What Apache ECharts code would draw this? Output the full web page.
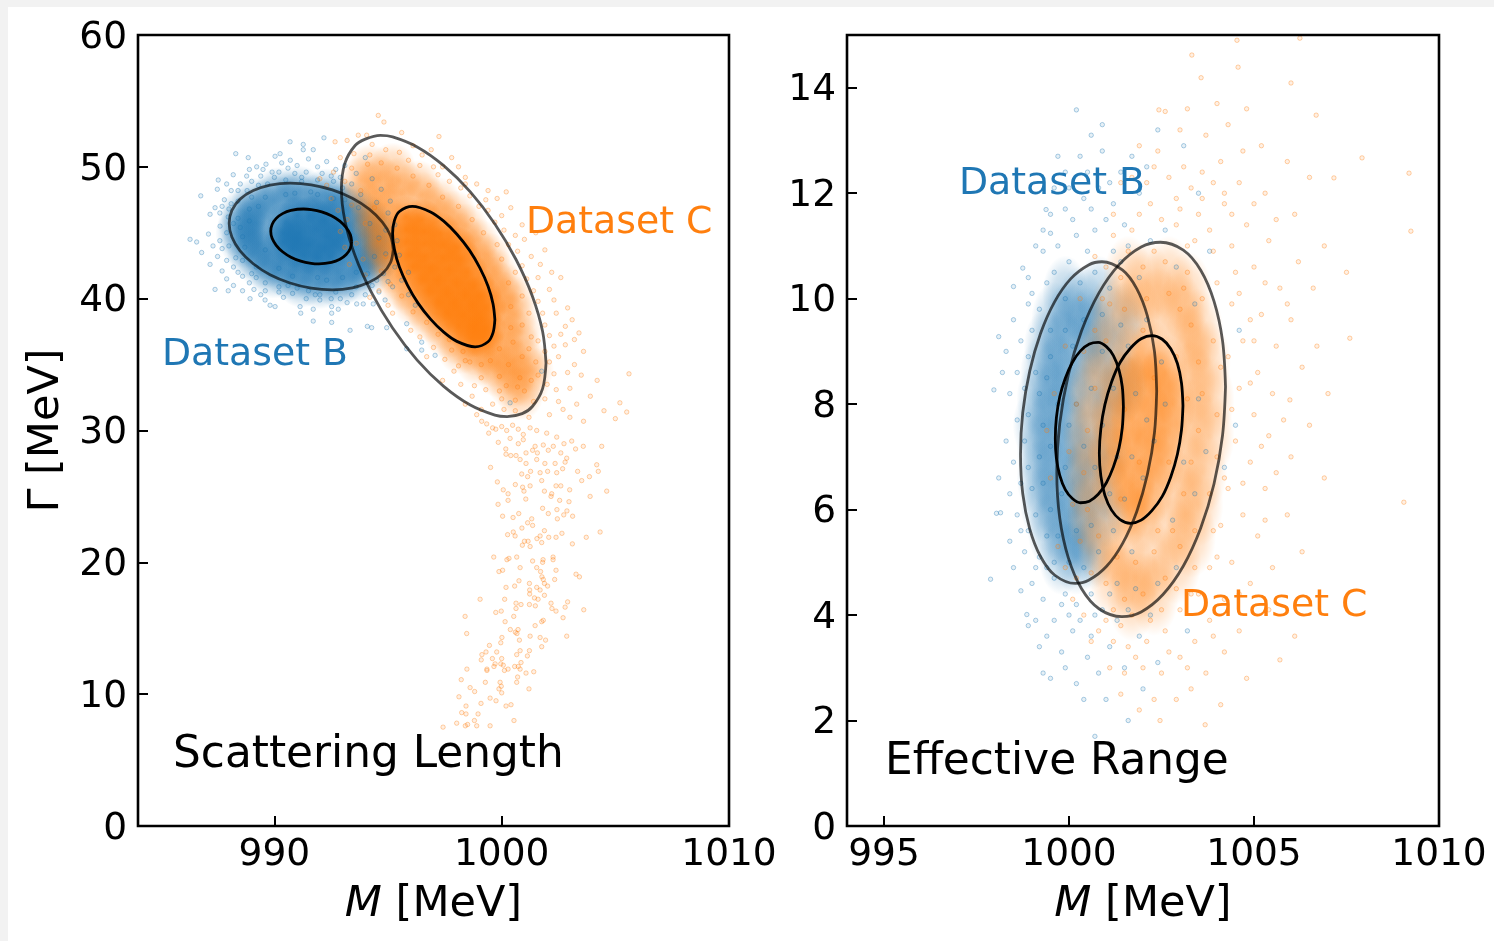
<!DOCTYPE html>
<html>
<head>
<meta charset="utf-8">
<title>Scattering Length / Effective Range</title>
<script src="https://cdn.jsdelivr.net/npm/echarts@6/dist/echarts.min.js"></script>
<style>
    html, body { margin: 0; height: 100%; background: #f2f2f2; overflow: hidden; }
    #chart { position: absolute; left: 8px; top: 7px; width: 1486px; height: 934px; background: #fff; }
</style>
</head>
<body>
<div id="chart"></div>
<script>
// tick values
var lenXTicks = [990, 1000, 1010];
var lenYTicks = [0, 10, 20, 30, 40, 50, 60];
var rngXTicks = [995, 1000, 1005, 1010];
var rngYTicks = [0, 2, 4, 6, 8, 10, 12, 14];

// Scattering Length, contour lines
var lenB1 = [[993.40,44.32],[993.34,44.86],[993.16,45.39],[992.88,45.88],[992.51,46.29],[992.08,46.59],[991.62,46.76],[991.28,46.80],[990.73,46.69],[990.36,46.45],[990.08,46.09],[989.90,45.63],[989.84,45.12],[989.90,44.58],[990.08,44.05],[990.36,43.56],[990.73,43.15],[991.16,42.85],[991.62,42.68],[991.96,42.64],[992.51,42.75],[992.88,42.99],[993.16,43.35],[993.34,43.81],[993.40,44.32]];
var lenB2 = [[995.23,43.72],[995.11,44.77],[994.75,45.81],[994.17,46.79],[993.43,47.62],[992.55,48.25],[991.62,48.64],[990.69,48.77],[989.81,48.62],[989.07,48.20],[988.49,47.55],[988.13,46.70],[988.01,45.72],[988.13,44.67],[988.49,43.63],[989.07,42.65],[989.81,41.82],[990.69,41.19],[991.62,40.80],[992.55,40.67],[993.43,40.82],[994.17,41.24],[994.75,41.89],[995.11,42.74],[995.23,43.72]];
var lenC1 = [[999.70,38.40],[999.62,39.60],[999.40,40.94],[999.04,42.33],[998.58,43.68],[998.03,44.89],[997.45,45.88],[996.87,46.58],[996.07,47.00],[995.50,46.61],[995.28,45.92],[995.20,44.94],[995.28,43.74],[995.50,42.40],[995.86,41.01],[996.32,39.66],[996.87,38.45],[997.45,37.46],[998.03,36.76],[998.83,36.34],[999.40,36.73],[999.62,37.42],[999.70,38.40]];
var lenC2 = [[1001.95,35.12],[1001.80,37.51],[1001.35,40.19],[1000.63,42.97],[999.70,45.67],[998.62,48.10],[997.45,50.09],[996.28,51.51],[995.20,52.27],[994.66,52.38],[994.00,52.10],[993.55,51.62],[993.10,50.26],[992.95,48.32],[993.10,45.93],[993.55,43.25],[994.27,40.47],[995.20,37.77],[996.28,35.34],[997.45,33.35],[998.62,31.93],[999.70,31.17],[1000.24,31.06],[1000.90,31.28],[1001.35,31.82],[1001.80,33.18],[1001.95,35.12]];

// Effective Range, contour lines
var rngB1 = [[1001.47,7.95],[1001.44,8.33],[1001.35,8.65],[1001.20,8.92],[1001.01,9.09],[1000.79,9.17],[1000.55,9.14],[1000.31,9.01],[1000.09,8.79],[999.90,8.49],[999.75,8.14],[999.66,7.75],[999.63,7.35],[999.66,6.97],[999.75,6.65],[999.90,6.38],[1000.09,6.21],[1000.31,6.13],[1000.55,6.16],[1000.79,6.29],[1001.01,6.51],[1001.20,6.81],[1001.35,7.16],[1001.44,7.55],[1001.47,7.95]];
var rngB2 = [[1002.37,8.25],[1002.31,9.00],[1002.12,9.67],[1001.83,10.19],[1001.45,10.54],[1000.89,10.70],[1000.53,10.64],[1000.05,10.38],[999.61,9.94],[999.23,9.34],[998.94,8.63],[998.75,7.84],[998.69,7.05],[998.75,6.30],[998.94,5.63],[999.23,5.11],[999.61,4.76],[1000.17,4.60],[1000.53,4.66],[1001.01,4.92],[1001.45,5.36],[1001.83,5.96],[1002.12,6.67],[1002.31,7.46],[1002.37,8.25]];
var rngC1 = [[1003.08,7.97],[1003.04,8.40],[1002.93,8.77],[1002.75,9.05],[1002.52,9.23],[1002.24,9.30],[1001.95,9.24],[1001.66,9.06],[1001.38,8.79],[1001.15,8.42],[1000.97,7.99],[1000.86,7.53],[1000.82,7.07],[1000.86,6.64],[1000.97,6.27],[1001.15,5.99],[1001.38,5.81],[1001.66,5.74],[1001.95,5.80],[1002.24,5.98],[1002.52,6.25],[1002.75,6.62],[1002.93,7.05],[1003.04,7.51],[1003.08,7.97]];
var rngC2 = [[1004.23,8.33],[1004.15,9.20],[1003.92,9.95],[1003.56,10.54],[1003.09,10.92],[1002.47,11.07],[1001.95,10.98],[1001.36,10.65],[1000.81,10.11],[1000.34,9.39],[999.98,8.55],[999.75,7.63],[999.67,6.71],[999.75,5.84],[999.98,5.09],[1000.34,4.50],[1000.81,4.12],[1001.43,3.97],[1001.95,4.06],[1002.54,4.39],[1003.09,4.93],[1003.56,5.65],[1003.92,6.49],[1004.15,7.41],[1004.23,8.33]];

// Scattering Length, Dataset B samples: scattered, then thick clusters, then the solid middle
var lenBLoose = [[986.29,44.5],[986.58,44.3],[986.80,43.5],[986.76,47.8],[988.30,51.0],[988.85,50.7],[990.69,51.9],[991.27,51.7],[992.18,52.2],[991.27,51.3],[991.71,51.3],[990.03,50.8],[990.25,51.0],[987.53,49.0],[988.19,49.4],[988.78,49.3],[989.22,50.0],[989.63,50.2],[990.32,50.3],[987.17,46.4],[987.39,46.9],[987.49,48.3],[987.61,45.5],[987.97,46.2],[987.17,42.6],[987.39,40.7],[987.97,40.6],[988.93,40.0],[989.59,39.9],[989.81,39.5],[990.03,39.4],[991.13,39.4],[991.16,38.9],[991.71,39.2],[991.71,38.3],[992.52,39.4],[992.52,38.9],[992.81,39.2],[992.52,38.2],[993.33,37.6],[994.09,37.9],[994.28,37.8],[994.94,37.8],[993.62,39.6],[993.91,39.6],[994.35,39.6],[994.87,39.9],[995.82,38.1],[995.82,36.2],[996.48,36.7],[996.48,36.1],[997.07,35.7],[1000.37,32.1],[1001.76,34.5],
[987.1,44.9],[987.3,44.0],[987.5,43.2],[987.7,42.1],[987.9,41.5],[988.2,41.0],[988.6,40.6],[989.1,40.7],[989.4,40.3],[990.4,40.1],[990.8,40.4],[991.4,40.0],[992.0,39.9],[992.9,40.0],[993.4,40.3],[994.6,40.5],[995.2,40.9],[995.6,41.4],[995.9,40.3],[996.2,39.5],
[987.8,47.5],[988.1,48.2],[988.5,48.7],[989.0,48.9],[989.4,49.3],[989.9,49.6],[990.6,49.9],[991.0,50.1],[991.4,49.6],[991.9,50.0],[992.3,50.4],[992.7,49.8],[993.1,50.1],[993.6,49.5],[994.0,50.7],[994.3,49.1],[994.7,48.3],[995.1,47.4],
[987.9,45.0],[988.0,44.0],[988.3,43.1],[988.2,42.4],[988.6,41.7],[989.2,41.6],[989.6,41.2],[990.2,40.9],[990.6,41.0],[991.5,40.6],[992.0,40.3],[992.7,40.5],[993.6,40.9],[994.3,41.0],[994.8,41.9],[995.3,42.4],[995.5,43.3],[995.4,44.4],[995.3,45.6],[995.0,46.5],[994.5,47.3],[993.8,47.9],[993.0,48.4],[992.6,48.9],[991.9,49.0],[991.2,49.2],[990.5,49.0],[989.7,48.7],[988.8,48.2],[988.4,47.4],[988.0,46.8],[988.2,45.7],
[988.6,44.7],[988.9,45.9],[989.3,47.0],[989.6,43.7],[989.2,42.4],[990.2,42.3],[992.3,41.4],[993.6,42.0],[994.4,43.2],[994.6,44.6],[994.2,45.7],[993.7,46.9],[992.6,47.6],[991.6,48.1],[990.5,47.9],
[988.4,46.1],[988.7,43.9],[989.0,41.9],[990.8,41.7],[991.9,41.6],[993.0,41.6],[994.1,41.9],[994.9,43.4],[994.9,45.2],[993.1,47.5],[991.9,47.9],[990.9,48.0],[989.6,47.7],[988.9,46.8],[988.5,45.4],[992.5,49.3],[990.9,49.5],[989.3,48.6],[988.6,42.9],[987.6,44.4],
[988.9,49.8],[989.5,49.8],[990.2,49.6],[990.7,50.5],[991.5,50.6],[992.1,49.5],[992.9,49.2],[993.4,48.7],[990.0,49.2],[991.2,48.9],[989.0,47.7],[988.4,48.2],[987.9,48.7],[987.7,47.0],[987.6,46.5],[988.1,47.2],[987.7,43.8],[987.9,42.9],[988.4,42.0],[988.9,41.2],[989.6,40.6],[990.2,40.5],[991.0,40.8],[991.8,40.3],[992.5,40.0],[993.2,39.7],[994.0,40.3],[994.5,41.4],[995.0,41.3],[995.9,42.0]];
var lenBMid = [[990.2,48.1],[991.1,48.2],[992.3,48.0],[989.2,47.3],[990.0,47.5],[990.9,47.6],[991.7,47.5],[992.6,47.3],[993.3,47.1],[988.7,46.5],[989.4,46.7],[992.4,46.8],[993.1,46.6],[993.9,46.2],[988.6,45.7],[989.2,45.8],[993.5,45.9],[994.3,45.5],[988.5,45.0],[989.1,44.9],[994.0,44.9],[994.6,44.7],[988.7,44.2],[989.3,44.1],[994.1,44.0],[994.6,43.8],[989.0,43.4],[989.7,43.3],[993.9,43.2],[994.4,43.1],[989.5,42.6],[990.2,42.7],[990.9,42.5],[993.6,42.4],[994.2,42.3],[990.0,41.9],[990.7,41.8],[991.5,42.0],[992.2,41.9],[992.9,41.9],[993.5,41.6],[991.2,41.2],[992.0,41.1],[992.8,41.2]];
var lenBCore = [[990.4,45.0],[990.5,45.8],[991.0,46.3],[991.6,46.3],[992.2,46.0],[992.7,45.3],[993.0,44.6],[993.0,43.9],[992.5,43.2],[991.9,43.1],[991.3,43.3],[990.8,43.8],[990.4,44.3],[991.1,45.0],[991.8,45.3],[992.3,44.7],[992.2,43.9],[991.5,44.1],[991.0,44.6]];

// Scattering Length, Dataset C samples
var lenCLoose = [[994.57,53.9],[994.82,53.4],[993.69,52.4],[994.06,52.4],[997.24,52.3],[992.67,51.9],[993.2,52.0],[995.6,52.6],[996.1,51.6],[996.9,51.3],[997.8,50.7],[998.1,50.0],[998.4,49.2],[998.9,48.7],[999.4,48.2],[999.8,47.6],[1000.4,46.9],[1000.2,48.1],[1000.9,45.6],[1001.0,44.5],[1001.5,45.0],[1001.9,43.7],[1001.7,42.6],[1002.2,42.0],[1002.6,41.6],[1002.1,40.7],[1002.9,39.3],[1003.1,38.4],[1002.4,38.9],[1003.4,37.4],[1002.8,36.5],[1003.6,36.0],[1003.2,35.0],[1002.5,35.6],[1003.5,34.2],[1004.2,33.8],[1005.6,34.3],[1003.0,33.2],[1003.9,32.6],[1005.2,32.1],[1005.5,31.4],[1005.0,30.9],[1004.5,31.5],[1002.5,32.2],[1002.1,31.2],[1003.0,31.0],[1003.6,30.7],
[992.3,48.6],[992.0,49.1],[992.6,49.6],[992.9,50.7],[993.4,49.9],[993.1,48.9],[992.5,47.6],[992.8,46.7],[993.2,46.0],[993.4,47.1],[992.9,45.1],[993.6,44.2],[993.1,43.9],[993.9,43.0],[993.3,42.6],[994.0,41.8],[994.6,40.6],[994.2,40.1],[995.0,39.5],[995.2,38.9],[996.0,37.6],[996.4,37.1],[997.0,36.3],[996.7,35.6],[997.5,35.4],[997.9,34.5],[997.4,33.8],[998.2,33.5],[998.7,32.6],[998.4,32.0],[999.1,31.6],[999.6,32.0],[998.9,31.2],[1000.1,31.6],[1000.6,31.5],[1001.2,31.0],
[994.3,51.7],[994.9,51.3],[995.5,51.1],[994.2,50.9],[995.9,50.5],[996.4,50.1],[997.0,50.0],[997.2,49.4],[997.7,48.9],[998.2,48.4],[998.6,47.8],[999.0,47.0],[999.4,46.7],[999.7,45.8],[1000.1,45.2],[1000.3,44.1],[1000.7,43.6],[1000.9,42.5],[1001.1,41.5],[1001.4,40.6],[1001.6,39.8],[1001.8,38.9],[1001.9,38.0],[1002.1,37.2],[1002.3,36.4],[1002.1,35.2],[1002.3,34.3],[1002.0,33.5],[1001.9,32.4],
[1001.0,33.0],[1000.6,32.3],[1000.2,33.4],[1000.8,34.0],[1001.3,33.8],[1001.5,35.2],[1000.9,35.6],[1000.3,35.0],[999.9,34.1],[999.3,33.1],[999.1,34.0],[998.8,33.4],[999.5,35.3],[998.6,35.2],[998.1,34.9],[998.3,36.0],[997.8,36.1],[999.9,36.2],[1000.5,36.7],[1001.3,37.1],[1000.9,38.0],[1001.2,38.9],[1000.4,39.4],[1000.9,40.2],[1000.3,41.2],[1000.6,42.0],[1000.0,43.0],[999.8,44.1],[999.2,45.0],[998.7,46.0],[998.1,47.0],[997.4,47.7],[996.8,48.6],[996.1,49.3],[995.4,49.9],[994.7,50.3],[994.1,50.2],
[993.5,51.0],[993.8,48.2],[994.4,46.9],[994.0,45.7],[994.6,44.5],[994.9,43.2],[994.7,42.1],[995.1,41.1],[995.6,40.2],[996.1,39.0],[996.7,38.2],[997.2,37.3],[997.7,36.9],[998.4,35.3],[999.1,35.0],[999.9,33.0],[1000.7,33.3],[1001.6,34.2],[1001.2,36.2],[1001.6,36.8],
[1002.4,33.1],[1002.9,34.4],[1002.7,31.6],[1003.3,32.0],[1002.8,37.9],[1002.3,39.9],[1001.6,41.6],[1001.3,43.2],[1000.6,44.8],[1000.0,46.3],[999.3,47.5],[998.4,48.7],[997.4,50.0],[996.5,50.9],[1003.2,36.9],[1002.6,37.3],[1001.9,36.0],[1001.4,32.2],[1000.0,32.4],[1000.4,37.8]];
// the sparse tail under the cloud, read point by point
var lenCTail = [[999.12,30.7],[999.34,30.5],[999.60,30.2],[999.74,30.1],[999.43,29.8],[1000.0,30.3],[1000.22,30.0],[1000.48,30.4],[1000.73,30.1],[1000.95,29.7],[1001.25,30.2],[1001.54,30.0],[1001.98,29.8],[1002.42,29.5],[999.85,29.1],[1000.37,29.4],[1000.73,29.0],[1000.95,29.3],[1001.47,28.8],[1001.83,28.9],[1002.27,28.8],[1002.74,29.0],[1003.08,29.2],[1003.59,28.8],[1004.40,28.8],[1000.18,28.6],[1000.19,28.2],[1000.40,28.1],[1000.63,28.1],[1000.81,27.8],[1001.07,28.3],[1001.36,28.5],[1001.57,28.3],[1002.05,28.5],[1002.60,28.3],[1002.86,27.9],[1003.25,28.6],[999.51,27.2],[1001.07,27.5],[1001.54,27.8],[1001.90,27.5],[1002.35,27.5],[1002.79,27.6],[1002.02,26.9],[1002.68,27.1],[1003.34,26.9],[1003.86,26.5],[1004.18,27.4],[1004.25,26.9],[999.81,26.1],[1000.88,26.7],[1001.27,26.9],[1001.69,26.8],[1001.14,26.5],[1001.76,26.2],[1002.42,26.8],[1003.52,26.2],[1000.60,25.9],[1000.92,25.7],[1001.25,25.8],[1000.07,25.5],[1000.28,25.2],[1000.28,24.7],[1000.98,25.4],[1001.88,25.4],[1002.39,25.8],[1002.60,25.8],[1002.99,25.5],[1002.20,25.2],[1002.17,25.0],[1003.89,25.0],[1004.62,25.4],[1001.06,24.8],[999.84,24.4],[1000.75,23.7],[1002.55,24.7],[1002.96,24.6],[1001.80,24.1],[1002.43,24.0],[1002.87,23.9],[1002.73,23.6],[1002.05,23.7],[1000.04,23.5],[1000.50,23.4],[1001.32,23.3],[1002.45,23.3],[1003.12,23.5],[1001.14,23.0],[1001.36,22.8],[1000.89,22.6],[1000.51,22.3],[1000.26,22.1],[1000.59,22.0],[1001.88,22.4],[1001.69,22.0],[1001.55,21.8],[1002.07,21.9],[1002.39,21.9],[1002.65,22.2],[1003.72,21.9],[1004.33,22.3],[1001.0,21.6],[1001.16,21.6],[1000.91,21.3],[1001.25,21.2],[1001.76,21.5],[1003.11,21.4],[999.65,20.4],[1000.23,20.2],[1000.32,20.3],[1000.66,20.4],[1001.36,20.1],[1001.82,20.2],[1001.80,20.0],[1002.26,20.4],[1002.26,20.2],[1000.81,19.6],[1001.54,19.6],[1002.39,19.4],[999.88,19.3],[1000.04,19.4],[1001.71,19.3],[1001.77,18.9],[1003.27,19.1],[1003.42,18.9],[1001.83,18.7],[1002.33,18.7],[1000.76,18.6],[1000.19,18.1],[1000.57,18.2],[1001.22,18.4],[1001.54,18.1],[1001.69,17.9],[1001.88,18.4],[1002.02,18.2],[1001.23,17.9],[1001.23,17.6],[1001.88,17.5],[999.05,17.2],[1000.13,17.2],[1001.44,17.3],[1001.60,17.2],[1000.63,16.9],[1000.85,16.8],[1001.22,16.8],[1001.48,16.7],[1002.17,16.9],[1002.90,17.0],[1002.79,16.6],[1000.63,16.5],[999.98,16.3],[999.74,16.2],[1002.21,16.5],[1002.39,16.3],[1003.61,16.4],[998.39,15.9],[1000.53,15.9],[1002.70,15.8],[1000.15,15.5],[1001.83,15.6],[1001.76,15.5],[1001.47,15.2],[1000.38,14.9],[1000.72,14.9],[1000.60,14.7],[1000.67,14.6],[998.46,14.6],[1000.01,14.3],[1000.78,14.1],[1001.25,14.4],[1001.69,14.3],[1001.93,14.1],[1002.86,14.4],[999.96,13.9],[999.46,13.7],[999.31,13.2],[999.78,13.2],[1000.81,13.3],[1001.22,13.3],[1001.76,13.6],[1000.66,13.0],[1001.13,12.9],[999.13,13.0],[999.10,12.6],[999.59,12.7],[1000.0,12.7],[1000.85,12.4],[999.71,12.3],[999.66,12.1],[999.96,12.3],[1000.07,12.2],[1000.57,12.1],[1000.73,12.1],[998.47,11.9],[999.35,11.9],[999.35,11.8],[1000.12,11.8],[1000.28,11.9],[1000.81,11.9],[1001.07,11.6],[1001.41,11.7],[1000.70,11.3],[998.22,11.1],[999.28,10.9],[999.93,10.9],[1000.66,10.9],[998.61,10.5],[999.98,10.6],[999.88,10.4],[1001.20,10.4],[998.81,10.2],[1000.0,10.1],[998.12,9.8],[999.49,9.7],[999.75,9.5],[999.09,9.3],[998.43,9.1],[1000.19,9.1],[1000.41,9.2],[998.24,8.6],[998.43,8.5],[998.96,8.5],[998.02,7.8],[998.80,8.0],[1000.54,8.0],[998.50,7.7],[998.40,7.6],[998.90,7.6],[999.49,7.6],[997.42,7.5]];
var lenCMid = [[994.2,50.0],[995.2,50.1],[993.8,49.0],[994.6,49.1],[995.5,49.0],[996.3,48.8],[993.9,48.0],[994.8,48.1],[995.6,47.9],[996.5,47.9],[997.2,47.5],[994.3,47.0],[995.0,47.1],[997.0,46.8],[997.9,46.5],[994.2,46.1],[994.8,46.2],[997.6,45.9],[998.4,45.5],[994.4,45.2],[995.0,45.0],[998.2,44.8],[998.9,44.4],[994.6,44.2],[995.0,43.9],[998.8,43.6],[999.4,43.3],[994.7,43.3],[995.3,42.7],[999.1,42.5],[999.7,42.1],[995.1,42.1],[995.6,41.5],[999.5,41.5],[1000.1,41.0],[995.6,40.8],[996.1,40.3],[999.9,40.4],[1000.5,40.0],[996.2,39.6],[996.7,39.1],[1000.0,39.3],[1000.6,38.8],[996.9,38.4],[997.4,37.9],[1000.1,38.2],[1000.8,37.5],[997.6,37.2],[998.1,36.7],[1000.0,37.1],[1000.7,36.6],[998.2,36.0],[998.8,35.9],[999.4,35.9],[1000.1,35.9],[999.0,35.1],[999.7,35.0],[1000.4,35.2],[1001.1,35.3],[999.9,34.2],[1000.6,34.3],[1001.3,34.6],[1000.4,33.4],[1001.1,33.5],[1000.8,32.5]];
var lenCCore = [[995.8,46.2],[996.5,46.0],[995.8,45.2],[996.6,45.1],[997.3,45.0],[995.8,44.3],[996.6,44.2],[997.4,44.1],[998.0,43.9],[995.9,43.3],[996.6,43.2],[997.4,43.1],[998.2,43.0],[996.1,42.4],[996.9,42.3],[997.7,42.2],[998.5,42.0],[996.5,41.5],[997.2,41.4],[998.0,41.2],[998.8,41.0],[996.8,40.6],[997.6,40.5],[998.4,40.3],[999.1,40.2],[997.2,39.7],[997.9,39.6],[998.7,39.4],[999.3,39.3],[997.6,38.9],[998.3,38.7],[999.1,38.5],[998.1,38.0],[998.8,37.8],[999.3,37.7],[998.7,37.1],[999.2,37.0]];

// Effective Range, Dataset B samples
var rngBLoose = [[997.97,8.27],[998.10,9.28],[997.88,4.68],[998.04,5.93],[998.15,5.94],[998.70,4.46],[998.86,4.01],[998.50,10.23],[998.75,10.58],[999.38,11.69],[999.50,11.24],[1000.2,13.58],[1000.6,13.1],[1000.9,12.8],[1000.3,12.7],[999.9,12.4],[999.6,12.1],[1000.4,11.9],[1000.8,12.1],[1001.4,12.4],[1001.9,12.0],[1001.0,11.5],[1001.5,11.4],[999.9,11.7],[999.3,10.9],[999.7,11.0],[1000.2,11.2],[1000.7,11.3],[998.9,9.9],[998.5,9.6],[998.3,9.0],[998.2,8.6],[998.4,8.2],[998.6,7.7],[998.3,7.3],[998.5,6.9],[998.1,6.6],[998.4,6.3],[998.6,5.9],[998.4,5.4],[998.8,5.2],[998.5,4.9],[999.0,4.6],[998.9,3.8],[999.3,4.3],[999.6,3.9],[999.2,3.4],[999.8,3.3],[999.5,2.8],[1000.1,3.7],[1000.5,3.2],[1000.2,2.7],[1000.8,2.9],[1001.1,3.4],[1001.0,2.4],[1000.7,1.7],[1001.6,2.0],[1001.5,3.0],[1002.0,2.6],[1001.9,3.6],[1002.4,3.1],[1001.6,4.1],[1002.4,4.6],[1002.9,4.9],[1003.2,3.7],[1002.8,5.8],[1003.4,6.3],[1003.7,7.1],[1003.1,6.9],[1004.2,6.8],[1003.5,8.1],[1004.5,7.6],[1004.6,9.4],[1003.4,9.9],[1002.9,10.6],[1003.8,10.9],[1002.6,11.3],[1003.5,12.0],[1003.1,12.9],[1002.4,13.2],
[999.0,9.4],[999.2,9.8],[999.4,10.3],[999.1,8.6],[998.9,8.9],[998.8,8.3],[998.9,7.8],[998.8,7.3],[998.9,6.8],[999.0,6.4],[999.1,5.9],[998.9,5.6],[999.2,5.1],[999.4,5.5],[999.6,4.7],[999.9,4.4],[1000.2,4.2],[1000.6,4.4],[1000.9,4.1],[1001.3,4.6],[1001.7,5.2],[999.5,9.4],[999.9,10.0],[1000.3,10.3],[1000.7,10.5],[1001.1,10.2],[1001.4,10.7],[1001.9,10.4],[1002.1,9.6],[999.2,8.2],[999.3,7.6],[999.2,7.0],[999.3,6.5],[999.5,6.0],[999.7,5.5],[1000.0,5.0],[1000.4,4.9],[1000.8,5.2],[1001.2,5.6],[1001.5,6.2],[1002.0,6.6],[1002.3,7.3],[1002.6,8.0],[1002.5,8.8],[1001.4,9.5],[1000.9,9.7],[1000.4,9.6],[999.9,9.4],[999.5,8.9],[999.4,8.5],[1001.8,8.2],[1002.1,7.7],[1001.7,7.0],[1001.3,7.0],[1000.9,7.6],[1001.2,8.3],[1000.6,8.3],[1000.2,8.0],[1000.4,7.2],[1000.7,6.8],[1001.1,6.3],[999.9,6.8],[1000.0,7.6],
[999.0,10.1],[999.3,11.3],[1000.0,10.7],[1000.5,10.9],[1001.2,10.9],[998.7,9.2],[998.6,8.6],[998.7,6.5],[998.7,5.6],[999.1,4.9],[999.4,4.9],[999.8,4.2],[1000.3,3.9],[1000.7,4.0],[1001.1,4.4],[999.6,10.5],[1000.1,9.1],[999.7,8.0],[999.5,7.2],[999.8,6.3],[1000.2,5.6],[1000.6,5.7],[999.6,5.0],[1000.9,9.0],[1001.6,9.1],
[999.1,11.0],[999.5,11.6],[1000.1,11.5],[1000.6,11.7],[1001.2,11.8],[1000.0,12.1],[1000.5,12.4],[1001.1,12.2],[999.7,12.7],[1000.9,13.3],[1001.7,12.7],[1002.1,12.5],[1001.6,11.0],[1002.2,11.1],[998.9,10.4],[999.1,3.9],[999.4,3.6],[999.9,3.0],[1000.4,2.4],[1000.6,3.6],[1000.0,4.0],[1001.3,3.9],[1001.8,4.5],[1002.2,4.0],[999.3,2.9]];
var rngBMid = [[999.9,10.1],[1000.3,9.9],[1000.8,10.1],[999.6,9.6],[1000.0,9.6],[1000.5,9.5],[999.4,9.1],[999.8,9.1],[1000.3,9.0],[999.3,8.6],[999.7,8.6],[1000.1,8.5],[999.2,8.1],[999.6,8.1],[1000.0,8.0],[999.1,7.6],[999.5,7.6],[1000.0,7.5],[999.2,7.1],[999.6,7.1],[1000.1,7.0],[999.2,6.6],[999.6,6.6],[1000.1,6.5],[999.3,6.1],[999.7,6.1],[1000.2,6.0],[999.5,5.6],[999.9,5.6],[1000.3,5.5],[999.8,5.1],[1000.2,5.1],[1000.6,5.2],[1000.7,9.4],[1000.7,8.6],[1000.6,7.8],[1000.5,7.0],[1000.6,6.3],[1001.1,9.0],[1001.1,8.0],[1001.0,7.0],[1001.0,6.0],[1001.5,9.6],[1001.5,8.4]];
var rngCLoose = [[1009.19,12.38],[1009.24,11.28],[1009.05,6.14],[1007.92,12.67],[1007.16,12.29],[1006.68,13.48],[1006.0,14.09],[1004.57,14.39],[1004.54,14.9],[1006.24,14.94],[1003.32,14.62],[1003.57,14.19],[1002.43,13.58],[1007.59,9.25],[1005.97,8.08],[1005.7,3.15],[1003.68,1.92],[1002.46,2.0],
[1002.6,13.55],[1003.0,13.2],[1003.7,13.1],[1004.3,13.3],[1004.8,13.6],[1005.2,12.9],[1005.9,12.6],[1006.5,12.3],[1002.4,12.8],[1003.1,12.5],[1003.6,12.4],[1004.1,12.6],[1004.6,12.2],[1005.3,12.0],[1006.1,11.6],[1006.9,11.0],[1007.5,10.5],[1002.9,11.9],[1003.5,11.6],[1004.2,11.8],[1004.8,11.4],[1005.4,11.1],[1006.2,10.7],[1006.6,10.2],[1001.9,11.6],[1002.5,11.5],[1001.4,12.2],[1001.9,12.9],[1004.4,11.0],[1005.0,10.6],[1005.7,10.2],[1006.0,9.6],[1006.7,9.1],[1004.6,10.1],[1005.2,9.7],[1005.6,9.1],[1006.3,8.7],[1007.0,8.2],[1004.7,9.2],[1005.1,8.6],[1005.5,8.2],[1006.5,7.6],[1004.6,8.3],[1005.0,7.8],[1005.4,7.4],[1006.0,7.0],[1006.9,6.6],[1004.5,7.3],[1004.9,6.9],[1005.3,6.4],[1005.9,5.9],[1006.3,5.2],[1004.3,6.4],[1004.7,5.9],[1005.1,5.5],[1005.5,4.9],[1004.1,5.7],[1004.4,5.0],[1004.9,4.6],[1005.4,4.1],[1006.1,3.6],[1003.8,4.9],[1004.2,4.3],[1004.6,3.7],[1003.5,4.4],[1003.8,3.9],[1004.2,3.3],[1004.8,2.8],[1003.0,4.1],[1003.4,3.5],[1003.7,2.9],[1004.1,2.3],[1002.6,3.7],[1003.0,3.2],[1003.3,2.6],[1002.1,3.5],[1002.5,2.9],[1002.9,2.4],[1001.6,3.4],[1002.0,3.0],[1002.3,2.4],[1001.2,3.5],[1001.5,2.9],[1001.9,2.2],[1000.8,3.7],[1001.1,3.0],[1001.4,2.5],[1000.4,4.0],[1000.6,3.5],[1000.1,4.3],[999.9,4.9],[999.7,5.3],[999.5,6.6],[999.4,7.5],[999.6,8.2],[999.9,9.1],[1000.3,10.0],[1000.7,10.8],[1001.2,11.2],[1001.7,11.3],[1002.2,11.8],[1002.9,11.4],[1003.4,11.1],[1003.9,10.9],
[1000.4,9.0],[1000.9,10.0],[1001.4,10.4],[1002.0,10.6],[1002.6,10.7],[1003.2,10.5],[1003.6,10.0],[1003.9,9.2],[1004.1,8.7],[1004.0,7.8],[1004.0,7.0],[1003.8,6.3],[1003.4,5.6],[1003.0,5.3],[1002.6,4.7],[1002.0,4.4],[1001.5,4.3],[1001.0,4.6],[1000.6,4.8],[1000.3,5.4],[1000.1,6.1],[1000.0,7.1],[1000.2,8.0],[1000.7,9.4],[1001.1,9.9],[1003.3,9.5],[1003.5,8.8],[1003.6,8.2],[1003.5,7.5],[1003.3,6.9],[1003.1,6.3],[1002.8,5.6],[1002.3,5.2],[1001.8,5.0],[1001.3,5.1],[1000.8,5.5],[1000.5,6.0],[1000.4,6.7],[1000.5,7.5],[1000.7,8.3],[1001.0,9.2],[1001.5,9.8],[1002.1,10.0],[1002.7,10.1],[1003.0,9.8],[1004.4,9.9],[1004.3,8.9],[1004.4,7.9],[1004.2,6.6],[1003.9,5.6],[1003.4,4.9],[1002.9,4.5],[1002.2,3.9],[1001.7,4.0],
[1003.2,11.0],[1003.8,11.3],[1002.3,10.9],[1001.0,10.6],[1001.6,10.9],[1003.1,10.2],[1004.0,10.3],[1004.9,9.6],[1004.9,8.4],[1005.2,7.2],[1004.7,6.5],[1004.0,5.1],[1003.3,4.4],[1002.5,4.1],[1001.2,4.1],[1000.2,4.7],[1002.9,8.9],[1003.2,8.1],[1002.7,6.9],[1001.9,6.9],[1001.5,7.9],[1002.3,8.5],[1002.0,9.4],[1001.4,6.2],[1002.4,5.6],
[1002.1,12.2],[1002.7,12.3],[1003.3,12.1],[1003.9,12.2],[1004.4,11.6],[1003.0,11.7],[1003.6,11.9],[1004.2,12.0],[1002.3,12.5],[1003.2,13.6],[1004.0,13.7],[1004.7,12.8],[1005.6,11.5],[1005.0,11.8],[1001.7,12.3],[1001.2,11.6],[1004.5,10.5],[1005.3,10.3],[1005.9,9.9],[1005.0,9.2],[1005.8,7.7],[1005.6,6.7],[1005.3,5.8],[1004.6,4.4],[1003.9,3.6],[1003.2,3.0],[1002.7,3.3],[1001.8,3.2],[1001.0,3.9],[1001.4,3.8]];
var rngCMid = [[1001.6,10.4],[1002.1,10.3],[1002.7,10.4],[1003.2,10.1],[1001.2,9.7],[1001.8,9.7],[1002.4,9.8],[1003.0,9.7],[1003.5,9.4],[1000.9,8.9],[1003.2,9.1],[1003.7,8.8],[1000.6,8.2],[1003.3,8.4],[1003.8,8.1],[1000.5,7.4],[1003.3,7.7],[1003.8,7.4],[1000.5,6.6],[1003.1,7.0],[1003.6,6.7],[1000.6,5.9],[1003.0,6.3],[1003.5,6.1],[1000.9,5.3],[1001.4,5.2],[1002.8,5.7],[1003.3,5.5],[1001.2,4.7],[1001.8,4.7],[1002.3,5.0],[1002.9,5.0],[1001.7,4.3],[1002.3,4.4]];
var rngCCore = [[1001.7,8.8],[1002.2,8.9],[1002.6,8.6],[1001.4,8.3],[1001.9,8.3],[1002.4,8.3],[1002.8,8.0],[1001.2,7.7],[1001.7,7.7],[1002.2,7.7],[1002.6,7.5],[1001.1,7.1],[1001.6,7.1],[1002.1,7.1],[1002.5,6.9],[1001.2,6.5],[1001.7,6.5],[1002.2,6.4],[1001.6,6.0],[1002.0,5.9]];

// font used by all text, sizes
var FONT = '"DejaVu Sans", sans-serif';
var BLUE = '#1f77b4';
var ORANGE = '#ff7f0e';
var blue = '31,119,180';
var orange = '255,127,14';

function dots(name, data, xi, rgb) { // open-looking small samples
    return {
        name: name,
        type: 'scatter',
        xAxisIndex: xi,
        yAxisIndex: xi,
        data: data,
        symbolSize: 4.4,
        silent: true,
        z: 3,
        itemStyle: {
            color: 'rgba(' + rgb + ',0.14)',
            borderColor: 'rgba(' + rgb + ',0.45)',
            borderWidth: 1
        }
    };
}

function haze(name, data, xi, rgb, size, alpha) { // where the samples pile up they merge, so these have soft edges
    return {
        name: name,
        type: 'scatter',
        xAxisIndex: xi,
        yAxisIndex: xi,
        data: data,
        symbolSize: size,
        silent: true,
        z: 2,
        itemStyle: {
            color: new echarts.graphic.RadialGradient(0.5, 0.5, 0.5, [
                { offset: 0, color: 'rgba(' + rgb + ',' + alpha + ')' },
                { offset: 0.55, color: 'rgba(' + rgb + ',' + alpha * 0.6 + ')' },
                { offset: 1, color: 'rgba(' + rgb + ',0)' }
            ])
        }
    };
}

function ring(name, data, xi, alpha) { // one contour
    return {
        name: name,
        type: 'line',
        xAxisIndex: xi,
        yAxisIndex: xi,
        data: data,
        smooth: 0.33,
        showSymbol: false,
        silent: true,
        z: 5,
        lineStyle: { color: 'rgba(0,0,0,' + alpha + ')', width: 2.8 }
    };
}

function xAxis(gridIndex, min, ticks) {
    return {
        type: 'value',
        gridIndex: gridIndex,
        min: min,
        max: 1010,
        name: '{i|M} [MeV]',
        nameLocation: 'middle',
        nameGap: 57,
        nameTextStyle: { fontFamily: FONT, fontSize: 43, color: '#000', rich: { i: { fontFamily: FONT, fontSize: 43, fontStyle: 'italic', color: '#000' } } },
        axisLine: { show: false },
        splitLine: { show: false },
        axisTick: { inside: true, length: 10, customValues: ticks, lineStyle: { color: '#000', width: 2 } },
        axisLabel: { customValues: ticks, margin: 10, fontFamily: FONT, fontSize: 37.5, color: '#000', formatter: function (v) { return String(v); } }
    };
}

function yAxis(gridIndex, max, ticks, name) {
    return {
        type: 'value',
        gridIndex: gridIndex,
        min: 0,
        max: max,
        name: name,
        nameLocation: 'middle',
        nameGap: 70,
        nameTextStyle: { fontFamily: FONT, fontSize: 43, color: '#000' },
        axisLine: { show: false },
        splitLine: { show: false },
        axisTick: { inside: true, length: 10, customValues: ticks, lineStyle: { color: '#000', width: 2 } },
        axisLabel: {
            customValues: ticks,
            margin: 11,
            fontFamily: FONT,
            fontSize: 37.5,
            color: '#000',
            formatter: function (v) { return '{v|' + v + '}'; },
            rich: { v: { fontFamily: FONT, fontSize: 37.5, color: '#000', padding: [6, 0, 0, 0] } }
        }
    };
}

function note(text, x, y, color, size) {
    return {
        type: 'text',
        left: x,
        top: y,
        z: 10,
        style: { text: text, fontFamily: FONT, fontSize: size, fill: color }
    };
}

var myChart = echarts.init(document.getElementById('chart'));
myChart.setOption({
    animation: false,
    backgroundColor: '#fff',
    grid: [
        { left: 130, top: 28, width: 591, height: 791, show: true, borderColor: '#000', borderWidth: 2.6, backgroundColor: 'transparent', z: 6 },
        { left: 839, top: 28, width: 592, height: 791, show: true, borderColor: '#000', borderWidth: 2.6, backgroundColor: 'transparent', z: 6 }
    ],
    xAxis: [xAxis(0, 984, lenXTicks), xAxis(1, 994, rngXTicks)],
    yAxis: [yAxis(0, 60, lenYTicks, 'Γ [MeV]'), yAxis(1, 15, rngYTicks, '')],
    series: [
        haze('lenBMid', lenBMid, 0, blue, 50, 0.55),
        haze('lenBCore', lenBCore, 0, blue, 40, 1),
        dots('lenBLoose', lenBLoose, 0, blue),
        haze('lenCMid', lenCMid, 0, orange, 46, 0.42),
        haze('lenCCore', lenCCore, 0, orange, 42, 1),
        dots('lenCLoose', lenCLoose, 0, orange),
        dots('lenCTail', lenCTail, 0, orange),
        ring('lenB2', lenB2, 0, 0.65),
        ring('lenC2', lenC2, 0, 0.65),
        ring('lenB1', lenB1, 0, 1),
        ring('lenC1', lenC1, 0, 1),

        haze('rngBMid', rngBMid, 1, blue, [46, 76], 0.42),
        dots('rngBLoose', rngBLoose, 1, blue),
        haze('rngCMid', rngCMid, 1, orange, [50, 84], 0.38),
        haze('rngCCore', rngCCore, 1, orange, [46, 76], 0.6),
        dots('rngCLoose', rngCLoose, 1, orange),
        ring('rngB2', rngB2, 1, 0.65),
        ring('rngC2', rngC2, 1, 0.65),
        ring('rngB1', rngB1, 1, 1),
        ring('rngC1', rngC1, 1, 1)
    ],
    graphic: [
        note('Dataset B', 154, 329, BLUE, 37.8),
        note('Dataset C', 518, 197, ORANGE, 37.8),
        note('Scattering Length', 165, 727, '#000', 43.8),
        note('Dataset B', 951, 158, BLUE, 37.8),
        note('Dataset C', 1173, 580, ORANGE, 37.8),
        note('Effective Range', 877, 734, '#000', 43.8)
    ]
});
</script>
</body>
</html>
